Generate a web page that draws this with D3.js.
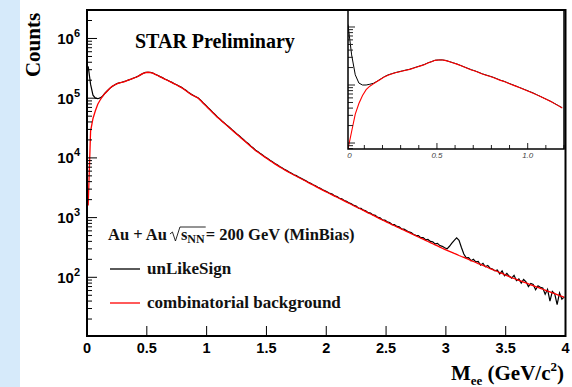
<!DOCTYPE html>
<html>
<head>
<meta charset="utf-8">
<script src="https://cdn.jsdelivr.net/npm/d3@7/dist/d3.min.js"></script>
<style>
  html, body { margin: 0; padding: 0; background: #ffffff; }
  svg { display: block; }
</style>
</head>
<body>
<svg id="chart" width="572" height="387"></svg>
<script>
// ---- Histogram definition: e+e- invariant mass, Au+Au 200 GeV ----
// Main spectrum: 200 bins of 0.02 GeV/c^2 from 0 to 4 GeV/c^2
const mainBinLow = 0;
const mainBinWidth = 0.02;

// unlike-sign pair counts per bin
const unlikeSign = [
  340000, 170000, 112000, 100000, 98000, 101000, 108000, 121000, 133000, 146000,
  157000, 167000, 176000, 181000, 185000, 190000, 196000, 203000, 210000, 218000,
  225000, 235000, 248000, 261000, 270000, 272000, 271000, 264000, 252000, 242000,
  230000, 221000, 210000, 202000, 192000, 184000, 175000, 168000, 159000, 152000,
  142000, 134000, 124000, 117000, 111000, 106000, 101000, 92500, 84000, 77000,
  69800, 64000, 58200, 53300, 48400, 45000, 41200, 38200, 35100, 32600,
  29900, 27700, 25400, 23700, 21700, 20100, 18400, 17200, 15700, 14600,
  13400, 12700, 11800, 11100, 10300, 9750, 9100, 8620, 8050, 7680,
  7150, 6860, 6420, 6150, 5790, 5530, 5230, 5040, 4760, 4570,
  4330, 4150, 3910, 3770, 3560, 3420, 3230, 3110, 2930, 2820,
  2680, 2540, 2470, 2310, 2250, 2110, 2060, 1930, 1880, 1760,
  1710, 1600, 1560, 1440, 1430, 1330, 1300, 1210, 1190, 1110,
  1090, 1010, 990, 915, 905, 850, 830, 765, 762, 712,
  700, 645, 640, 605, 575, 560, 520, 505, 500, 462,
  462, 425, 430, 400, 392, 362, 370, 340, 330, 312,
  300, 331, 372, 417, 457, 417, 316, 245, 212, 214,
  190, 200, 181, 184, 160, 172, 150, 158, 142, 138,
  128, 133, 114, 128, 106, 116, 104, 97, 108, 88,
  94, 80, 92, 84, 70, 79, 76, 62, 72, 68,
  66, 52, 63, 40, 58, 53, 35, 55, 43, 47
];

// combinatorial background counts per bin
const combBackground = [
  1600, 28200, 45700, 61700, 79400, 93300, 107000, 120000, 132000, 145000,
  158000, 166000, 174000, 180000, 184000, 188000, 195000, 202000, 209000, 216000,
  224000, 234000, 248000, 260000, 269000, 272000, 269000, 263000, 251000, 240000,
  229000, 219000, 209000, 200000, 191000, 182000, 174000, 166000, 158000, 150000,
  141000, 132000, 123000, 116000, 110000, 105000, 100000, 91200, 83200, 75900,
  69200, 63100, 57500, 52500, 47900, 44200, 40700, 37600, 34700, 32000,
  29500, 27200, 25100, 23200, 21400, 19700, 18200, 16800, 15500, 14300,
  13200, 12400, 11600, 10900, 10200, 9550, 8970, 8430, 7940, 7500,
  7080, 6700, 6340, 6010, 5700, 5420, 5160, 4920, 4690, 4470,
  4260, 4060, 3860, 3680, 3510, 3340, 3180, 3030, 2890, 2750,
  2630, 2510, 2400, 2290, 2190, 2090, 2000, 1910, 1820, 1740,
  1660, 1580, 1510, 1450, 1380, 1320, 1260, 1200, 1150, 1100,
  1050, 1000, 955, 912, 871, 832, 796, 762, 731, 700,
  670, 641, 614, 587, 564, 540, 516, 494, 473, 453,
  435, 416, 398, 381, 365, 350, 335, 321, 307, 294,
  282, 271, 261, 251, 242, 232, 223, 215, 207, 199,
  191, 184, 177, 170, 164, 158, 152, 146, 140, 135,
  130, 125, 120, 116, 111, 107, 103, 99, 95.5, 92.3,
  89.1, 86.1, 83.2, 80.4, 77.6, 75.0, 72.4, 70.0, 67.6, 65.3,
  63.1, 61.0, 58.9, 56.9, 55.0, 53.1, 51.3, 49.5, 47.9, 46.2
];

// Zoomed low-mass view: 60 bins of 0.02 GeV/c^2 from 0 to 1.2 GeV/c^2
const insetBinLow = 0;
const insetBinWidth = 0.02;
const insetUnlikeSign = [
  1100000, 330000, 150000, 108000, 100000, 100000, 103000, 107000, 116000, 127000,
  139000, 149000, 156500, 163000, 169500, 175000, 181500, 187000, 196500, 205500,
  215000, 225500, 241000, 253000, 267500, 270500, 271000, 264500, 252500, 241500,
  230500, 217500, 205500, 194000, 183500, 175000, 165500, 156000, 149000, 142500,
  136000, 128500, 121000, 116000, 109000, 103000, 97500, 92000, 86800, 82000,
  77300, 73000, 68000, 63600, 59300, 55500, 51700, 47700, 44000, 40600
];
const insetBackground = [
  3160, 15800, 31600, 47900, 66100, 83200, 95500, 104700, 114800, 125900,
  138000, 147900, 154900, 162200, 167900, 173800, 179900, 186200, 195000, 204200,
  213800, 223900, 239900, 251200, 266100, 269200, 269200, 263000, 251200, 239900,
  229100, 216300, 204200, 192800, 182000, 173800, 164100, 154900, 147900, 141300,
  134900, 127400, 120200, 114800, 108400, 102300, 96600, 91200, 86100, 81300,
  76700, 72400, 67600, 63100, 58900, 55000, 51300, 47300, 43700, 40300
];

// Axis tick values and labels
const xTickValues = [0, 0.5, 1, 1.5, 2, 2.5, 3, 3.5, 4];
const xTickLabels = ["0", "0.5", "1", "1.5", "2", "2.5", "3", "3.5", "4"];
const insetXTickLabels = [[0, "0.0"], [0.5, "0.5"], [1.0, "1.0"]];

const legendTitle = { pre: "Au + Au", rad: "s", sub: "NN", post: "= 200 GeV (MinBias)" };
const legendEntries = [
  { label: "unLikeSign", color: "#000000" },
  { label: "combinatorial background", color: "#ff0000" }
];

// ---- Layout ----
const svg = d3.select("#chart");
const W = 572, H = 387;
const frame = { left: 87, right: 565.5, top: 10, bottom: 336 };
const inset = { left: 348, right: 564, top: 10, bottom: 149 };
const serif = "'Liberation Serif', 'Times New Roman', serif";
const sans = "'Liberation Sans', Arial, Helvetica, sans-serif";

svg.append("rect").attr("width", W).attr("height", H).attr("fill", "#ffffff");
svg.append("rect").attr("x", 0).attr("y", 0).attr("width", 20).attr("height", H).attr("fill", "#d6eafa");

// ---- Scales ----
const x = d3.scaleLinear().domain([0, 4]).range([frame.left, frame.right]);
const y = d3.scaleLog().domain([Math.pow(10, 1.017), Math.pow(10, 6.477)])
  .range([frame.bottom, frame.top]).clamp(true);

const xi = d3.scaleLinear().domain([0.01, 1.2]).range([inset.left, inset.right]);
const yi = d3.scaleLog().domain([Math.pow(10, 3.897), Math.pow(10, 6.293)])
  .range([inset.bottom, inset.top]).clamp(true);

const defs = svg.append("defs");
defs.append("clipPath").attr("id", "clipMain").append("rect")
  .attr("x", frame.left).attr("y", frame.top)
  .attr("width", frame.right - frame.left).attr("height", frame.bottom - frame.top);
defs.append("clipPath").attr("id", "clipInset").append("rect")
  .attr("x", inset.left).attr("y", inset.top)
  .attr("width", inset.right - inset.left).attr("height", inset.bottom - inset.top);
defs.append("clipPath").attr("id", "clipInsetPad").append("rect")
  .attr("x", 347).attr("y", 0).attr("width", 225).attr("height", 170);

// ---- Main curves ----
const mainLine = d3.line()
  .x((d, i) => x(mainBinLow + (i + 0.5) * mainBinWidth))
  .y(d => y(d));

const curves = svg.append("g").attr("clip-path", "url(#clipMain)");
curves.append("path").datum(unlikeSign).attr("d", mainLine)
  .attr("fill", "none").attr("stroke", "#000").attr("stroke-width", 1.2);
curves.append("path").datum(combBackground).attr("d", mainLine)
  .attr("fill", "none").attr("stroke", "#ff0000").attr("stroke-width", 1.3);

// ---- Main axes ----
const axisG = svg.append("g");
// y ticks (log, inside the frame)
y.ticks().forEach(v => {
  const e = Math.log10(v);
  const major = Math.abs(e - Math.round(e)) < 1e-6;
  axisG.append("line")
    .attr("x1", frame.left).attr("x2", frame.left + (major ? 10 : 5))
    .attr("y1", y(v)).attr("y2", y(v))
    .attr("stroke", "#000").attr("stroke-width", 1);
  if (major) {
    const t = axisG.append("text")
      .attr("x", 80).attr("y", y(v) + 5.5)
      .attr("text-anchor", "end")
      .attr("font-family", sans).attr("font-weight", "bold").attr("font-size", 15).attr("fill", "#000");
    t.append("tspan").text("10");
    t.append("tspan").attr("dy", -7).attr("font-size", 11).text(String(Math.round(e)));
  }
});
// x ticks
xTickValues.forEach((v, i) => {
  axisG.append("line")
    .attr("x1", x(v)).attr("x2", x(v))
    .attr("y1", frame.bottom).attr("y2", frame.bottom - 10)
    .attr("stroke", "#000").attr("stroke-width", 1);
  axisG.append("text")
    .attr("x", x(v)).attr("y", 353)
    .attr("text-anchor", "middle")
    .attr("font-family", sans).attr("font-weight", "bold").attr("font-size", 14.5)
    .attr("fill", "#000").text(xTickLabels[i]);
});
// frame
axisG.append("rect")
  .attr("x", frame.left).attr("y", frame.top)
  .attr("width", frame.right - frame.left).attr("height", frame.bottom - frame.top)
  .attr("fill", "none").attr("stroke", "#000").attr("stroke-width", 2);

// axis titles
svg.append("text")
  .attr("transform", "translate(40,45) rotate(-90)")
  .attr("text-anchor", "middle")
  .attr("font-family", serif).attr("font-weight", "bold").attr("font-size", 21)
  .text("Counts");

const xt = svg.append("text")
  .attr("x", 564).attr("y", 380).attr("text-anchor", "end")
  .attr("font-family", serif).attr("font-weight", "bold").attr("font-size", 21);
xt.append("tspan").text("M");
xt.append("tspan").attr("dy", 5).attr("font-size", 13).text("ee");
xt.append("tspan").attr("dy", -5).text(" (GeV/c");
xt.append("tspan").attr("dy", -9).attr("font-size", 13).text("2");
xt.append("tspan").attr("dy", 9).text(")");

// ---- Title ----
svg.append("text")
  .attr("x", 135).attr("y", 48)
  .attr("font-family", serif).attr("font-weight", "bold").attr("font-size", 20)
  .text("STAR Preliminary");

// ---- Legend ----
const lg = svg.append("g")
  .attr("font-family", serif).attr("font-weight", "bold").attr("fill", "#111");
const lgFont = 16.5;
const hdrY = 240;
const t1 = lg.append("text").attr("x", 108).attr("y", hdrY).attr("font-size", lgFont).text(legendTitle.pre);
const w1 = t1.node().getComputedTextLength();
const rx = 108 + w1 + 3;
const t2 = lg.append("text").attr("x", rx + 11).attr("y", hdrY).attr("font-size", lgFont);
t2.append("tspan").text(legendTitle.rad);
t2.append("tspan").attr("dy", 3).attr("font-size", 12).text(legendTitle.sub);
const w2 = t2.node().getComputedTextLength();
lg.append("path")
  .attr("d", `M${rx},${hdrY - 6} L${rx + 2.5},${hdrY - 8} L${rx + 5.5},${hdrY + 1} L${rx + 10},${hdrY - 13} L${rx + 11 + w2 + 1},${hdrY - 13}`)
  .attr("fill", "none").attr("stroke", "#111").attr("stroke-width", 0.9);
lg.append("text").attr("x", rx + 11 + w2 + 1).attr("y", hdrY).attr("font-size", lgFont).text(legendTitle.post);

legendEntries.forEach((d, i) => {
  const cy = 269 + i * 34;
  lg.append("line").attr("x1", 110).attr("x2", 140).attr("y1", cy).attr("y2", cy)
    .attr("stroke", d.color).attr("stroke-width", 1.3);
  lg.append("text").attr("x", 147).attr("y", cy + 5).attr("font-size", 17).text(d.label);
});

// ---- Inset: low-mass region ----
const ig = svg.append("g");
const insetLine = d3.line()
  .x((d, i) => xi(insetBinLow + (i + 0.5) * insetBinWidth))
  .y(d => yi(d));
const ic = ig.append("g").attr("clip-path", "url(#clipInset)");
ic.append("path").datum(insetUnlikeSign).attr("d", insetLine)
  .attr("fill", "none").attr("stroke", "#000").attr("stroke-width", 1);
ic.append("path").datum(insetBackground).attr("d", insetLine)
  .attr("fill", "none").attr("stroke", "#ff0000").attr("stroke-width", 1.1);

// inset y ticks
yi.ticks().forEach(v => {
  const e = Math.log10(v);
  const major = Math.abs(e - Math.round(e)) < 1e-6;
  ig.append("line")
    .attr("x1", inset.left).attr("x2", inset.left + (major ? 7 : 5))
    .attr("y1", yi(v)).attr("y2", yi(v))
    .attr("stroke", "#222").attr("stroke-width", 1);
});
// inset x ticks every 0.1
d3.range(1, 13).map(k => k / 10).forEach(v => {
  const major = Math.abs(v * 2 - Math.round(v * 2)) < 1e-6;
  ig.append("line")
    .attr("x1", xi(v)).attr("x2", xi(v))
    .attr("y1", inset.bottom).attr("y2", inset.bottom - (major ? 6 : 4))
    .attr("stroke", "#222").attr("stroke-width", 1);
});
insetXTickLabels.forEach(([v, s]) => {
  ig.append("text")
    .attr("x", xi(v)).attr("y", 158)
    .attr("text-anchor", "middle")
    .attr("clip-path", "url(#clipInsetPad)")
    .attr("font-family", sans).attr("font-style", "italic").attr("font-size", 8)
    .attr("fill", "#444").text(s);
});
ig.append("rect")
  .attr("x", inset.left).attr("y", inset.top)
  .attr("width", inset.right - inset.left).attr("height", inset.bottom - inset.top)
  .attr("fill", "none").attr("stroke", "#000").attr("stroke-width", 1.5);
</script>
</body>
</html>
